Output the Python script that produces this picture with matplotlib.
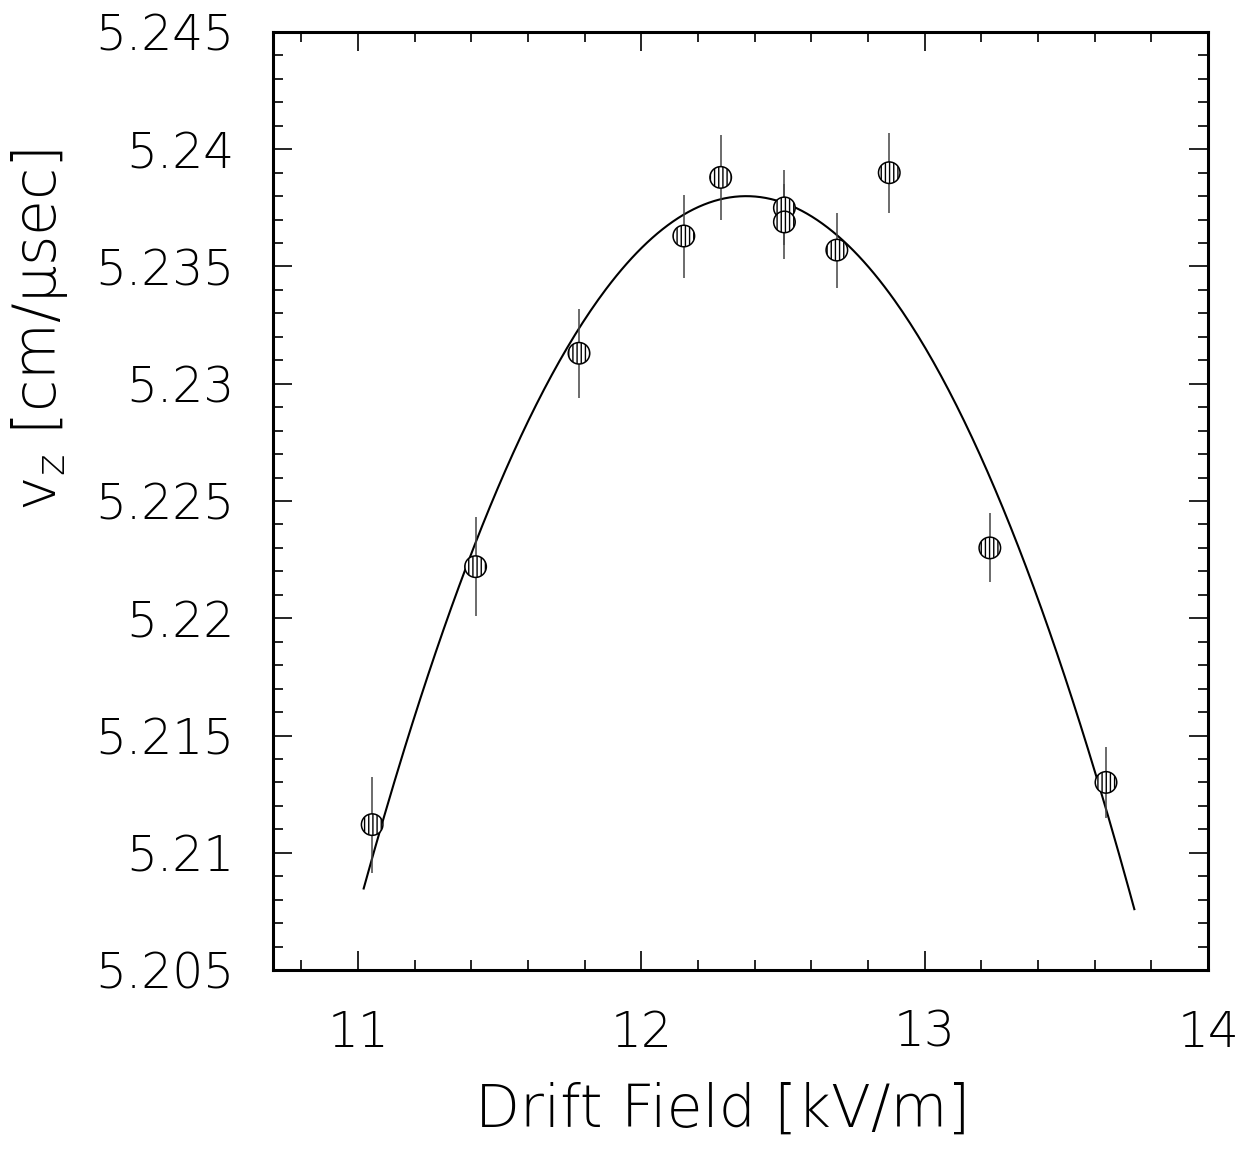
import numpy as np
import matplotlib
matplotlib.use("Agg")
import matplotlib.pyplot as plt
from matplotlib.ticker import MultipleLocator

# measured drift velocity vs drift field
field = [11.05, 11.415, 11.78, 12.15, 12.28, 12.505, 12.505, 12.69, 12.875, 13.23, 13.64]
vz = [5.2112, 5.2222, 5.2313, 5.2363, 5.2388, 5.2375, 5.2369, 5.2357, 5.2390, 5.2230, 5.2130]
vz_err = [0.00205, 0.0021, 0.0019, 0.00177, 0.0018, 0.0016, 0.0016, 0.0016, 0.0017, 0.00147, 0.0015]

# quadratic fit shown as the solid curve
fit_peak_field = 12.37
fit_peak_vz = 5.2380
fit_curvature = 0.0162
fit_range = (11.02, 13.74)

x_ticks = [11, 12, 13, 14]
y_ticks = [5.205, 5.21, 5.215, 5.22, 5.225, 5.23, 5.235, 5.24, 5.245]
y_tick_labels = ["5.205", "5.21", "5.215", "5.22", "5.225", "5.23", "5.235", "5.24", "5.245"]

plt.rcParams["font.family"] = ["DejaVu Sans"]
plt.rcParams["font.weight"] = "light"
plt.rcParams["mathtext.fontset"] = "dejavusans"
plt.rcParams["hatch.linewidth"] = 1.0

fig = plt.figure(figsize=(12.47, 11.51), dpi=100)
ax = fig.add_axes([273 / 1247, 1 - 970 / 1151, 935 / 1247, 938 / 1151])

fx = np.linspace(fit_range[0], fit_range[1], 300)
fy = fit_peak_vz - fit_curvature * (fx - fit_peak_field) ** 2
ax.plot(fx, fy, color="black", lw=1.5, zorder=2)

ax.errorbar(field, vz, yerr=vz_err, fmt="none", ecolor="#444444", elinewidth=1.1,
            capsize=0, zorder=3)
ax.scatter(field, vz, s=240, marker="o", facecolor="white", edgecolor="black",
           linewidths=1.1, hatch="||||", zorder=4)

ax.set_xlim(10.7, 14)
ax.set_ylim(5.205, 5.245)
ax.set_xticks(x_ticks)
ax.set_xticklabels([str(t) for t in x_ticks])
ax.set_yticks(y_ticks)
ax.set_yticklabels(y_tick_labels)
ax.xaxis.set_minor_locator(MultipleLocator(0.2))
ax.yaxis.set_minor_locator(MultipleLocator(0.001))

ax.tick_params(which="both", direction="in", top=True, right=True, width=1.2)
ax.tick_params(which="major", length=14, labelsize=35, pad=28)
ax.tick_params(which="minor", length=7)
for side in ax.spines.values():
    side.set_linewidth(2.2)

fig.text(40 / 1247, 1 - 330 / 1151, "v$_{\\mathrm{z}}$ [cm/\u03bcsec]", rotation=90,
         ha="center", va="center", fontsize=42)
fig.text(723 / 1247, 1 - 1110 / 1151, "Drift Field [kV/m]",
         ha="center", va="center", fontsize=42)

fig.savefig("out.png", dpi=100)
plt.close(fig)
